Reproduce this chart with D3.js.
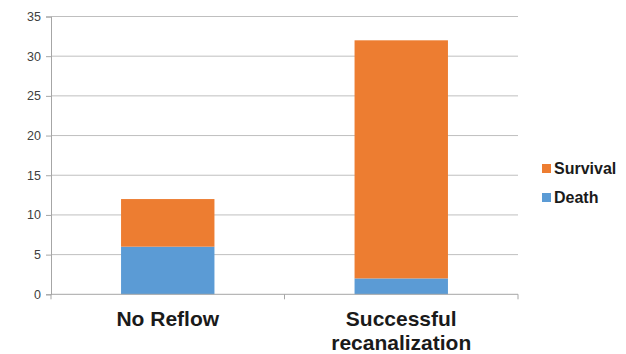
<!DOCTYPE html>
<html>
<head>
<meta charset="utf-8">
<script src="https://cdn.jsdelivr.net/npm/d3@7"></script>
<style>
  html, body { margin: 0; padding: 0; background: #fff; }
  svg { display: block; }
</style>
</head>
<body>
<svg id="chart" width="626" height="354"></svg>
<script>
// Outcome counts per group
const categories = ["No Reflow", "Successful recanalization"];
const categoryLines = [["No Reflow"], ["Successful", "recanalization"]];
const seriesNames = ["Death", "Survival"];
const death = [6, 2];
const survival = [6, 30];
const yTicks = [0, 5, 10, 15, 20, 25, 30, 35];
const colors = { Death: "#5B9BD5", Survival: "#ED7D31" };

const svg = d3.select("#chart");
const plotLeft = 51, plotRight = 518, plotTop = 16.5, plotBottom = 294.3;

const x = d3.scaleBand().domain(categories).range([plotLeft, plotRight]).paddingInner(0).paddingOuter(0);
const y = d3.scaleLinear().domain([0, 35]).range([plotBottom, plotTop]);

// Horizontal gridlines
svg.append("g")
  .selectAll("line")
  .data(yTicks.filter(d => d > 0))
  .join("line")
  .attr("x1", plotLeft).attr("x2", plotRight)
  .attr("y1", d => y(d)).attr("y2", d => y(d))
  .attr("stroke", "#BFBFBF").attr("stroke-width", 1);

// Y axis
const yAxis = svg.append("g")
  .attr("transform", `translate(${plotLeft},0)`)
  .call(d3.axisLeft(y).tickValues(yTicks).tickSize(5).tickPadding(5));
yAxis.select(".domain").attr("stroke", "#A6A6A6");
yAxis.selectAll(".tick line").attr("stroke", "#A6A6A6");
yAxis.selectAll("text")
  .attr("font-family", "'Liberation Sans', Arial, sans-serif")
  .attr("font-size", 12.5).attr("fill", "#404040");

// Stacked bars
const rows = categories.map((c, i) => ({ category: c, Death: death[i], Survival: survival[i] }));
const stack = d3.stack().keys(seriesNames)(rows);
const barW = x.bandwidth() * 0.4;

svg.append("g")
  .selectAll("g")
  .data(stack)
  .join("g")
  .attr("fill", d => colors[d.key])
  .selectAll("rect")
  .data(d => d)
  .join("rect")
  .attr("x", d => x(d.data.category) + (x.bandwidth() - barW) / 2)
  .attr("width", barW)
  .attr("y", d => y(d[1]))
  .attr("height", d => y(d[0]) - y(d[1]));

// X axis baseline with category boundary ticks
const xg = svg.append("g");
xg.append("line")
  .attr("x1", plotLeft).attr("x2", plotRight)
  .attr("y1", plotBottom).attr("y2", plotBottom)
  .attr("stroke", "#A6A6A6");
const bounds = categories.map(c => x(c)).concat([plotRight]);
xg.selectAll("line.tk")
  .data(bounds)
  .join("line")
  .attr("class", "tk")
  .attr("x1", d => d).attr("x2", d => d)
  .attr("y1", plotBottom).attr("y2", plotBottom + 5)
  .attr("stroke", "#A6A6A6");

// Category labels
svg.append("g")
  .selectAll("text")
  .data(categories)
  .join("text")
  .attr("text-anchor", "middle")
  .attr("font-family", "'Liberation Sans', Arial, sans-serif")
  .attr("font-weight", "bold")
  .attr("font-size", 21)
  .attr("fill", "#1a1a1a")
  .each(function(d, i) {
    const t = d3.select(this);
    categoryLines[i].forEach((line, j) => {
      t.append("tspan")
        .attr("x", x(d) + x.bandwidth() / 2)
        .attr("y", 325.5 + j * 24.5)
        .text(line);
    });
  });

// Legend
const legendItems = ["Survival", "Death"];
const lg = svg.append("g")
  .selectAll("g")
  .data(legendItems)
  .join("g")
  .attr("transform", (d, i) => `translate(542, ${164 + i * 29})`);
lg.append("rect")
  .attr("width", 9).attr("height", 9)
  .attr("fill", d => colors[d]);
lg.append("text")
  .attr("x", 12).attr("y", 9.5)
  .attr("font-family", "'Liberation Sans', Arial, sans-serif")
  .attr("font-weight", "bold")
  .attr("font-size", 16)
  .attr("fill", "#1a1a1a")
  .text(d => d);
</script>
</body>
</html>
